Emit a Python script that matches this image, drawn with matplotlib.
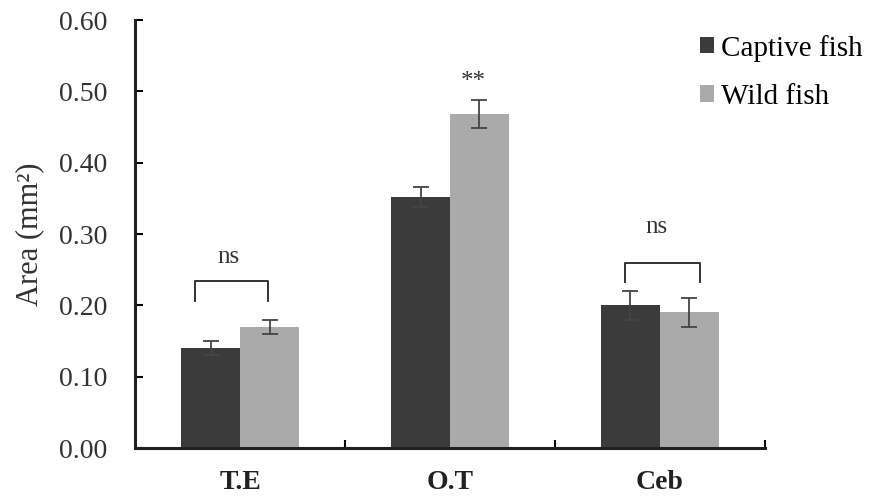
import numpy as np
import matplotlib
matplotlib.use("Agg")
import matplotlib.pyplot as plt

plt.rcParams['font.family'] = ['Liberation Serif', 'DejaVu Serif']

# data
regions = ['T.E', 'O.T', 'Ceb']
captive = [0.14, 0.352, 0.20]
captive_err = [0.01, 0.014, 0.02]
wild = [0.17, 0.468, 0.19]
wild_err = [0.01, 0.02, 0.02]
y_ticks = [0.0, 0.1, 0.2, 0.3, 0.4, 0.5, 0.6]

fig = plt.figure(figsize=(8.73, 5.0), dpi=100)
ax = fig.add_axes([0.155, 0.104, 0.721, 0.856])

x = np.arange(len(regions))
w = 0.28
ax.bar(x - w/2, captive, w, color='#3b3b3b', label='Captive fish')
ax.bar(x + w/2, wild, w, color='#aaaaaa', label='Wild fish')
ax.errorbar(x - w/2, captive, yerr=captive_err, fmt='none', ecolor='#444444',
            elinewidth=1.3, capsize=6, capthick=1.3)
ax.errorbar(x + w/2, wild, yerr=wild_err, fmt='none', ecolor='#444444',
            elinewidth=1.3, capsize=6, capthick=1.3)

# significance marks
def bracket(i, x0, x1, ytop, ybot, label, xlab, ylab):
    ax.plot([i + x0, i + x0, i + x1, i + x1], [ybot, ytop, ytop, ybot],
            color='#333333', lw=1.4)
    ax.text(i + xlab, ylab, label, ha='center', va='center', fontsize=18,
            color='#333333')

bracket(0, -0.214, 0.133, 0.234, 0.206, 'ns', -0.057, 0.268)
bracket(2, -0.167, 0.19, 0.259, 0.233, 'ns', -0.014, 0.31)
ax.text(1.11, 0.513, '**', ha='center', va='center', fontsize=18, color='#333333')

ax.set_xlim(-0.5, 2.5)
ax.set_ylim(0, 0.6)
ax.set_yticks(y_ticks)
ax.set_yticklabels(['%.2f' % v for v in y_ticks], fontsize=20, color='#333333')
ax.set_xticks([0.5, 1.5, 2.5])
ax.set_xticklabels([])
for i, r in enumerate(regions):
    ax.text(i, -0.048, r, ha='center', va='center', fontsize=20,
            fontweight='bold', color='#222222')
ax.tick_params(axis='y', direction='in', length=6, width=1.5, pad=20)
ax.tick_params(axis='x', direction='in', length=6, width=1.5)
ax.set_ylabel('Area (mm²)', fontsize=22, color='#333333', labelpad=11)

for s in ['top', 'right']:
    ax.spines[s].set_visible(False)
for s in ['left', 'bottom']:
    ax.spines[s].set_linewidth(2.2)
    ax.spines[s].set_color('#222222')

ax.legend(loc='upper left', bbox_to_anchor=(0.897, 0.966), frameon=False,
          fontsize=21, handlelength=0.5, handleheight=0.5, handletextpad=0.24,
          labelspacing=0.77, borderpad=0, borderaxespad=0)

fig.savefig('out.png', dpi=100)
